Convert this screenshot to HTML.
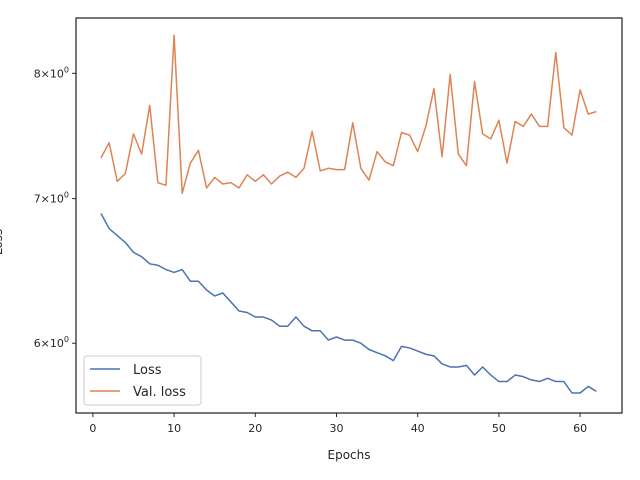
<!DOCTYPE html>
<html><head><meta charset="utf-8"><style>
body{margin:0;background:#fff;}
svg{display:block;font-family:"DejaVu Sans","Liberation Sans",sans-serif;}
</style></head><body>
<svg id="chart" width="640" height="480" viewBox="0 0 640 480" xmlns="http://www.w3.org/2000/svg">
<rect width="640" height="480" fill="#fff"/>
<g id="plot"></g>
</svg>
<script>
const epochs = [];
for (let i = 1; i <= 62; i++) epochs.push(i);
const lossValues = [6.89,6.78,6.73,6.68,6.61,6.58,6.53,6.52,6.49,6.47,6.49,6.41,6.41,6.35,6.31,6.33,6.27,6.21,6.20,6.17,6.17,6.15,6.11,6.11,6.17,6.11,6.08,6.08,6.02,6.04,6.02,6.02,6.00,5.96,5.94,5.92,5.89,5.98,5.97,5.95,5.93,5.92,5.87,5.85,5.85,5.86,5.80,5.85,5.80,5.76,5.76,5.80,5.79,5.77,5.76,5.78,5.76,5.76,5.69,5.69,5.73,5.70];
const valLossValues = [7.31,7.43,7.13,7.19,7.50,7.34,7.73,7.12,7.10,8.33,7.04,7.27,7.37,7.08,7.16,7.11,7.12,7.08,7.18,7.13,7.18,7.11,7.17,7.20,7.16,7.23,7.52,7.21,7.23,7.22,7.22,7.59,7.23,7.14,7.36,7.28,7.25,7.51,7.49,7.36,7.56,7.87,7.32,7.99,7.34,7.25,7.93,7.50,7.46,7.61,7.27,7.60,7.56,7.66,7.56,7.56,8.18,7.55,7.49,7.86,7.66,7.68];
const xTicks = [0,10,20,30,40,50,60];
const yTicks = [6,7,8];
const yTickLabels = ["6","7","8"];

const L=76,R=622,T=18,B=413;
const xMin=-2.08,xMax=65.16,yMin=5.57,yMax=8.486;
const xs=v=>L+(v-xMin)/(xMax-xMin)*(R-L);
const ys=v=>B-(Math.log(v)-Math.log(yMin))/(Math.log(yMax)-Math.log(yMin))*(B-T);
const NS="http://www.w3.org/2000/svg";
const g=document.getElementById('plot');
function mk(tag,attrs,parent){const e=document.createElementNS(NS,tag);for(const k in attrs)e.setAttribute(k,attrs[k]);(parent||g).appendChild(e);return e;}

function line(data,color,name){
  const d=data.map((v,i)=>(i?'L':'M')+xs(epochs[i]).toFixed(2)+','+ys(v).toFixed(2)).join('');
  const p=mk('path',{d:d,fill:'none',stroke:color,'stroke-width':1.5,'stroke-linejoin':'round'});
  
  
}
line(lossValues,'#4c72b0','loss-line');
line(valLossValues,'#dd8452','val-loss-line');

const frame=mk('rect',{x:L,y:T,width:R-L,height:B-T,fill:'none',stroke:'#262626','stroke-width':1.25});



xTicks.forEach(t=>{
  const x=xs(t);
  const tk=mk('line',{x1:x,x2:x,y1:B,y2:B+4,stroke:'#262626','stroke-width':1});
  
  
  const tx=mk('text',{x:x,y:B+19,'text-anchor':'middle','font-size':11,fill:'#262626'});
  tx.textContent=t;
  
  
});
yTicks.forEach((t,i)=>{
  const y=ys(t);
  const tk=mk('line',{x1:L-4,x2:L,y1:y,y2:y,stroke:'#262626','stroke-width':1});
  
  
  const tx=mk('text',{x:L-7,y:y+4,'text-anchor':'end','font-size':11,fill:'#262626'});
  tx.innerHTML=yTickLabels[i]+'\u00d710<tspan dy="-5" font-size="8">0</tspan>';
  
  
});
const xl=mk('text',{x:349,y:459,'text-anchor':'middle','font-size':12,fill:'#262626'});
xl.textContent='Epochs';


const yl=mk('text',{x:0,y:240,'text-anchor':'middle','font-size':12,fill:'#262626',transform:'rotate(-90 2 240)'});
yl.textContent='Loss';



const lg=mk('g',{});


mk('rect',{x:84,y:356,width:117,height:49,rx:3,fill:'#fff','fill-opacity':0.8,stroke:'#cccccc','stroke-width':1},lg);
[['Loss','#4c72b0',369],['Val. loss','#dd8452',391]].forEach(e=>{
  const en=mk('g',{},lg);
  
  
  mk('line',{x1:90,x2:120,y1:e[2],y2:e[2],stroke:e[1],'stroke-width':1.5},en);
  const t=mk('text',{x:133,y:e[2]+5,'font-size':13,fill:'#262626'},en);
  t.textContent=e[0];
});
</script>
</body></html>
